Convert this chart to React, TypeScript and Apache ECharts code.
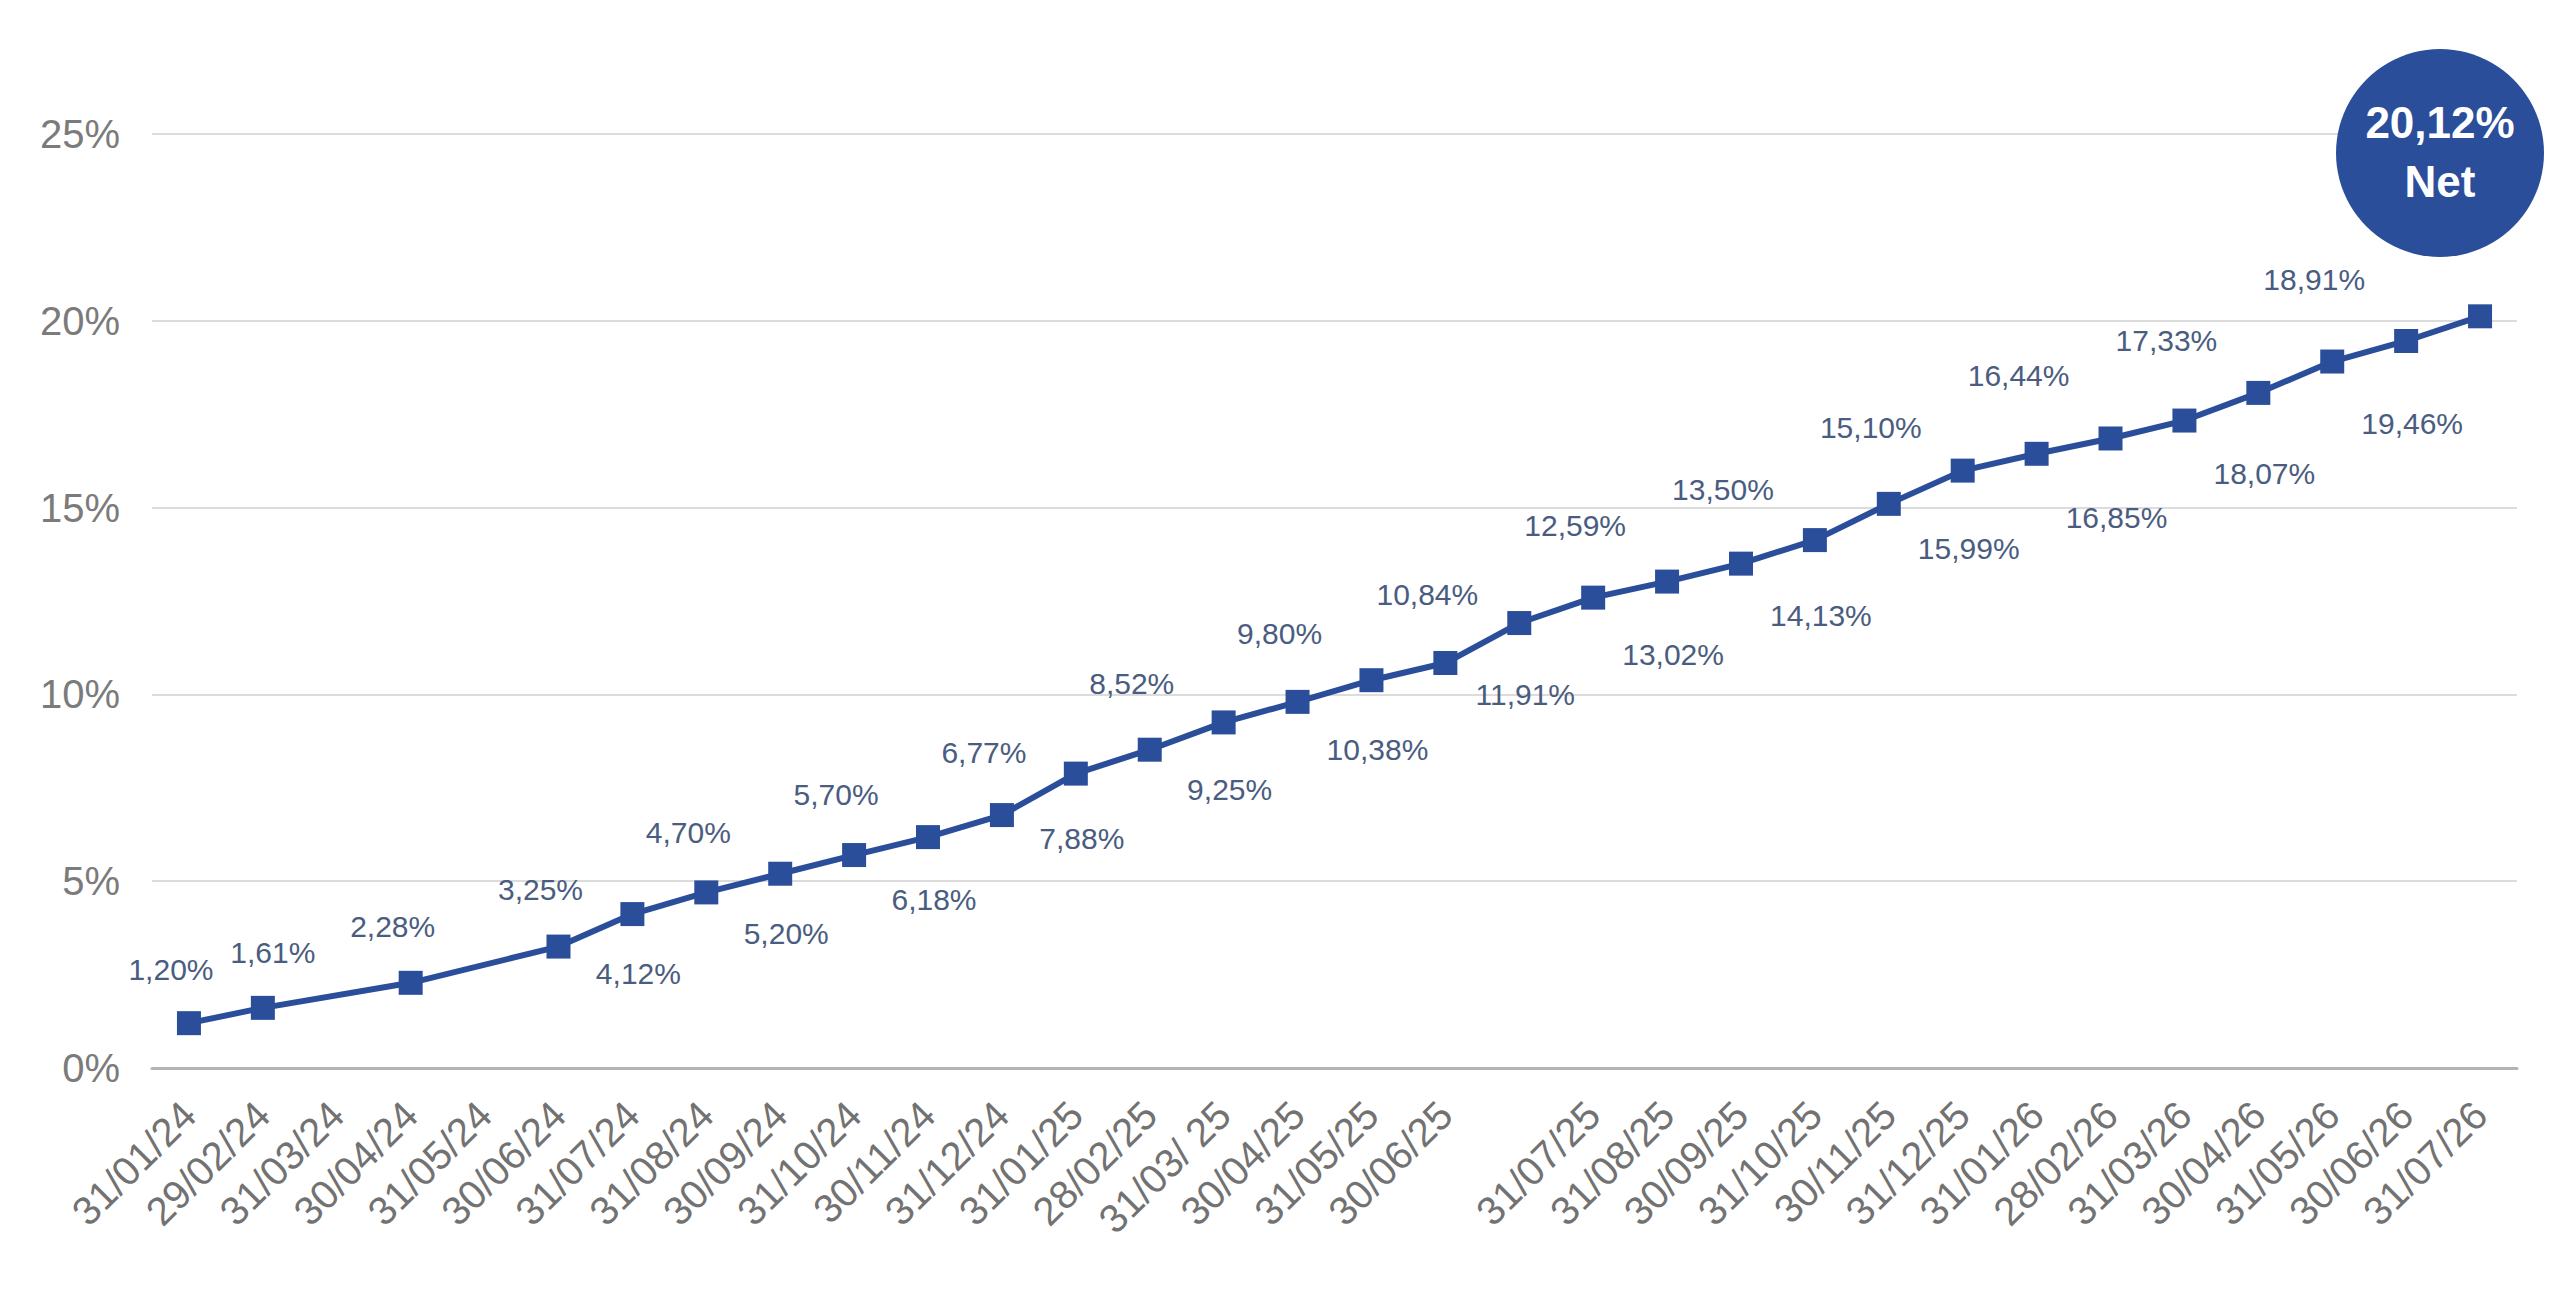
import React, { useEffect, useRef } from "react";
import * as echarts from "echarts";

// ---- data ----
const categories: string[] = [
  "31/01/24", "29/02/24", "31/03/24", "30/04/24", "31/05/24", "30/06/24",
  "31/07/24", "31/08/24", "30/09/24", "31/10/24", "30/11/24", "31/12/24",
  "31/01/25", "28/02/25", "31/03/ 25", "30/04/25", "31/05/25", "30/06/25",
  "", "31/07/25", "31/08/25", "30/09/25", "31/10/25", "30/11/25",
  "31/12/25", "31/01/26", "28/02/26", "31/03/26", "30/04/26", "31/05/26",
  "30/06/26", "31/07/26",
];

const netReturns: (number | null)[] = [
  1.2, 1.61, null, 2.28, null, 3.25,
  4.12, 4.7, 5.2, 5.7, 6.18, 6.77,
  7.88, 8.52, 9.25, 9.8, 10.38, 10.84,
  11.91, 12.59, 13.02, 13.5, 14.13, 15.1,
  15.99, 16.44, 16.85, 17.33, 18.07, 18.91,
  19.46, 20.12,
];

const yMin = 0;
const yMax = 25;
const yStep = 5;
const badgeCaption = "Net";

// ---- styles ----
const BLUE = "#2b4e9b";
const LABEL_BLUE = "#4a5d80";
const FONT = '"Liberation Sans", Arial, sans-serif';

const fmt = (v: number) => v.toFixed(2).replace(".", ",") + "%";

export default function App() {
  const ref = useRef<HTMLDivElement>(null);

  useEffect(() => {
    if (!ref.current) return;
    const chart = echarts.init(ref.current, null, { renderer: "svg" });
    const lastIdx = netReturns.length - 1;
    const lastVal = netReturns[lastIdx] as number;

    const isAbove = (i: number) => i <= 5 || i % 2 === 1;

    const seriesData = netReturns.map((v, i) => {
      if (v === null) return "-";
      const above = isAbove(i);
      // neighbouring labels on the same side are spread apart
      const prevAbove = i > 0 && netReturns[i - 1] !== null && isAbove(i - 1);
      return {
        value: v,
        label: {
          show: i !== lastIdx,
          position: above ? "top" : "bottom",
          distance: Math.round(25 + 1.6 * v),
          offset: above ? [prevAbove ? 10 : -18, 0] : [6, 0],
        },
      };
    });

    const cx = 2440;
    const cy = 153;

    chart.setOption({
      animation: false,
      backgroundColor: "#ffffff",
      grid: { left: 152, right: 43, top: 134, bottom: 238 },
      xAxis: {
        type: "category",
        data: categories,
        boundaryGap: true,
        axisLine: { show: true, lineStyle: { color: "#b4b4b4", width: 3 } },
        axisTick: { show: false },
        axisLabel: {
          interval: 0,
          rotate: 45,
          margin: 40,
          fontSize: 40,
          fontFamily: FONT,
          color: "#727272",
        },
        splitLine: { show: false },
      },
      yAxis: {
        type: "value",
        min: yMin,
        max: yMax,
        interval: yStep,
        axisLine: { show: false },
        axisTick: { show: false },
        axisLabel: {
          formatter: (v: number) => `${v}%`,
          margin: 32,
          fontSize: 40,
          fontFamily: FONT,
          color: "#7b7b7b",
        },
        splitLine: { show: true, lineStyle: { color: "#dcdcdc", width: 2 } },
      },
      series: [
        {
          type: "line",
          data: seriesData,
          connectNulls: true,
          symbol: "rect",
          symbolSize: 24,
          itemStyle: { color: BLUE },
          lineStyle: { color: BLUE, width: 6 },
          label: {
            show: true,
            fontSize: 30,
            fontFamily: FONT,
            color: LABEL_BLUE,
            formatter: (p: any) => fmt(p.value as number),
          },
          z: 3,
        },
      ],
      graphic: [
        {
          type: "circle",
          z: 100,
          shape: { cx, cy, r: 104 },
          style: { fill: BLUE },
        },
        {
          type: "text",
          z: 101,
          x: cx,
          y: cy - 31,
          style: {
            text: fmt(lastVal),
            fill: "#ffffff",
            fontSize: 44,
            fontWeight: "bold",
            fontFamily: FONT,
            align: "center",
            verticalAlign: "middle",
          },
        },
        {
          type: "text",
          z: 101,
          x: cx,
          y: cy + 28,
          style: {
            text: badgeCaption,
            fill: "#ffffff",
            fontSize: 44,
            fontWeight: "bold",
            fontFamily: FONT,
            align: "center",
            verticalAlign: "middle",
          },
        },
      ],
    });

    return () => chart.dispose();
  }, []);

  return (
    <div
      ref={ref}
      style={{
        position: "fixed",
        left: 0,
        top: 0,
        width: 2560,
        height: 1306,
        background: "#ffffff",
      }}
    />
  );
}
